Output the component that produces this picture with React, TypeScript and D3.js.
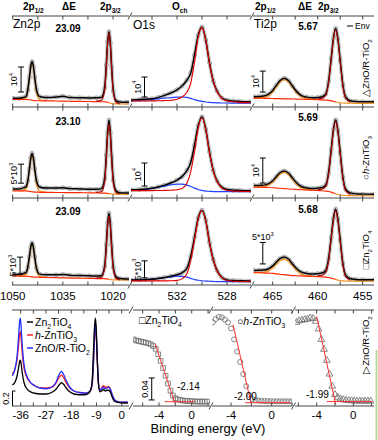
import React from 'react';
import * as d3 from 'd3';

// ---------- Zn 2p (k counts) ----------
const znE = [1050, 1048, 1047, 1046, 1045.5, 1045, 1044.6, 1044.2, 1043.8, 1043.4, 1042.9, 1042, 1040, 1037, 1035, 1033, 1030, 1027, 1025, 1023.5, 1022.5, 1022, 1021.6, 1021.2, 1020.8, 1020.4, 1019.9, 1019, 1018, 1016, 1015.2];
const znData1 = [3.5, 3.5, 3.7, 4.2, 6.8, 11.9, 16.3, 18.2, 16.2, 11.8, 7.0, 4.2, 3.8, 4.0, 4.3, 3.8, 3.7, 3.6, 3.7, 3.8, 7.6, 16.8, 26.2, 30.2, 25.6, 16.0, 6.4, 2.4, 2.0, 1.9, 1.9];
const znBg1 = [3.0, 3.0, 3.0, 3.0, 2.95, 2.9, 2.8, 2.7, 2.6, 2.55, 2.5, 2.5, 2.45, 2.4, 2.35, 2.3, 2.25, 2.2, 2.15, 2.1, 2.1, 2.0, 1.9, 1.7, 1.5, 1.4, 1.3, 1.25, 1.2, 1.2, 1.2];
const znP1a = [0, 0, 0.3, 0.9, 3.3, 8.5, 13, 15, 13, 8.5, 3.3, 0.5, 0.1, 0, 0, 0, 0, 0, 0, 0, 0, 0, 0, 0, 0, 0, 0, 0, 0, 0, 0];
const znP2a = [0, 0, 0, 0, 0, 0, 0, 0, 0, 0, 0, 0, 0, 0, 0, 0, 0, 0.1, 0.2, 0.5, 4.5, 14, 23.5, 28, 23.5, 14, 4.5, 0.5, 0.1, 0, 0];
const znData2 = [2.4, 2.4, 2.6, 3.0, 4.5, 7.7, 10.5, 11.8, 10.4, 7.6, 4.6, 2.9, 2.6, 2.6, 2.7, 2.5, 2.4, 2.3, 2.3, 2.4, 5.0, 11.3, 17.4, 20.5, 17.2, 11.0, 4.6, 1.8, 1.4, 1.3, 1.3];
const znBg2 = [1.85, 1.85, 1.85, 1.85, 1.8, 1.75, 1.7, 1.65, 1.6, 1.55, 1.55, 1.5, 1.5, 1.45, 1.45, 1.4, 1.4, 1.35, 1.35, 1.3, 1.3, 1.25, 1.2, 1.15, 1.1, 1.05, 1.0, 1.0, 1.0, 1.0, 1.0];
const znP1b = [0, 0, 0.2, 0.6, 2.1, 5.4, 8.3, 9.6, 8.3, 5.4, 2.1, 0.3, 0.06, 0, 0, 0, 0, 0, 0, 0, 0, 0, 0, 0, 0, 0, 0, 0, 0, 0, 0];
const znP2b = [0, 0, 0, 0, 0, 0, 0, 0, 0, 0, 0, 0, 0, 0, 0, 0, 0, 0.07, 0.13, 0.33, 2.9, 9.2, 15.4, 18.3, 15.4, 9.2, 2.9, 0.33, 0.07, 0, 0];
const znData3 = [3.1, 3.1, 3.3, 3.7, 5.2, 8.4, 11.2, 12.4, 11.0, 8.2, 5.0, 3.2, 3.0, 3.0, 3.1, 2.9, 2.8, 2.7, 2.65, 2.7, 5.4, 11.9, 18.2, 21.2, 18.0, 11.6, 5.2, 2.3, 1.9, 1.8, 1.8];
const znBg3 = [2.6, 2.6, 2.6, 2.6, 2.55, 2.5, 2.45, 2.4, 2.35, 2.3, 2.3, 2.25, 2.2, 2.15, 2.1, 2.05, 2.0, 1.95, 1.9, 1.9, 1.85, 1.8, 1.75, 1.7, 1.6, 1.55, 1.5, 1.5, 1.5, 1.5, 1.5];
const znP1c = [0, 0, 0.19, 0.57, 2.1, 5.4, 8.2, 9.45, 8.2, 5.4, 2.1, 0.3, 0.06, 0, 0, 0, 0, 0, 0, 0, 0, 0, 0, 0, 0, 0, 0, 0, 0, 0, 0];
const znP2c = [0, 0, 0, 0, 0, 0, 0, 0, 0, 0, 0, 0, 0, 0, 0, 0, 0, 0.07, 0.13, 0.34, 3.0, 9.4, 15.7, 18.75, 15.7, 9.4, 3.0, 0.34, 0.07, 0, 0];
const znSplit = [23.09, 23.10, 23.09];

// ---------- O 1s ----------
const oE = [535.7, 535, 534.5, 534, 533.5, 533, 532.5, 532, 531.6, 531.2, 530.9, 530.6, 530.3, 530.0, 529.7, 529.4, 529.1, 528.8, 528.4, 528, 527.5, 527, 526.1];
const oData1 = [3.5, 3.7, 3.9, 4.1, 4.8, 5.8, 7.0, 8.6, 10.5, 13.5, 17, 26, 36, 40, 33.5, 22, 13, 8, 4.5, 3.4, 3.0, 2.8, 2.6];
const oMain1 = [3.0, 3.0, 3.0, 3.05, 3.1, 3.2, 3.4, 3.9, 5.0, 7.5, 12, 22.5, 35, 39.8, 33.3, 21.8, 12.8, 7.8, 4.3, 3.1, 2.6, 2.3, 2.1];
const oCh1 = [3.0, 3.3, 3.5, 3.8, 4.1, 4.4, 4.7, 4.9, 5.0, 4.8, 4.3, 3.7, 3.2, 2.8, 2.5, 2.3, 2.2, 2.1, 2.0, 2.0, 1.95, 1.9, 1.9];
const oData2 = [3.6, 3.7, 3.9, 4.2, 4.8, 5.6, 6.5, 7.8, 9.3, 12, 15.5, 23, 31.5, 35.3, 30, 20, 12, 7.5, 4.6, 3.7, 3.4, 3.3, 3.2];
const oMain2 = [3.2, 3.2, 3.2, 3.2, 3.25, 3.3, 3.4, 3.6, 4.1, 6.5, 11.5, 20, 30.5, 35, 29.7, 19.7, 11.7, 7.2, 4.3, 3.4, 3.0, 2.9, 2.8];
const oCh2 = [3.3, 3.5, 3.8, 4.2, 4.7, 5.2, 5.7, 6.0, 6.0, 5.6, 5.0, 4.3, 3.7, 3.3, 3.0, 2.9, 2.8, 2.8, 2.8, 2.8, 2.8, 2.8, 2.8];
const oData3 = [1.5, 1.5, 1.6, 1.7, 1.9, 2.2, 2.6, 3.0, 3.6, 5.0, 8.5, 14, 19.8, 22, 19, 12.5, 7.5, 4.3, 2.2, 1.5, 1.3, 1.25, 1.2];
const oMain3 = [1.2, 1.2, 1.2, 1.2, 1.2, 1.2, 1.25, 1.35, 1.8, 3.4, 7.3, 13.2, 19.4, 21.9, 18.9, 12.4, 7.4, 4.2, 2.1, 1.3, 1.1, 1.05, 1.0];
const oCh3 = [1.4, 1.5, 1.6, 1.75, 1.95, 2.15, 2.4, 2.6, 2.55, 2.3, 1.95, 1.6, 1.4, 1.25, 1.15, 1.1, 1.05, 1.0, 1.0, 1.0, 1.0, 1.0, 1.0];

// ---------- Ti 2p ----------
const tiE = [467.1, 466.5, 466, 465.5, 465, 464.6, 464.2, 463.7, 463.2, 462.8, 462.3, 461.8, 461.2, 460.6, 460, 459.5, 459.1, 458.8, 458.5, 458.25, 458.0, 457.75, 457.5, 457.2, 456.9, 456.4, 455.8, 455, 453.7];
const tiData1 = [4.9, 5.0, 5.2, 6.0, 7.9, 10.3, 12.5, 13.7, 12.4, 10.0, 7.2, 5.4, 4.7, 4.4, 4.5, 4.9, 6.3, 11.9, 23.2, 32.9, 37.5, 32.4, 22.2, 10.6, 4.8, 3.0, 2.6, 2.5, 2.5];
const tiBg1 = [4.2, 4.2, 4.15, 4.1, 4.05, 4.0, 3.95, 3.9, 3.85, 3.8, 3.75, 3.7, 3.65, 3.6, 3.5, 3.4, 3.3, 3.2, 3.0, 2.7, 2.4, 2.15, 2.0, 1.9, 1.85, 1.8, 1.75, 1.7, 1.7];
const tiP1a = [0.1, 0.2, 0.4, 1.2, 3.1, 5.5, 7.8, 9.1, 7.8, 5.5, 2.7, 0.95, 0.3, 0.1, 0, 0, 0, 0, 0, 0, 0, 0, 0, 0, 0, 0, 0, 0, 0];
const tiP2a = [0, 0, 0, 0, 0, 0, 0, 0, 0, 0, 0, 0, 0, 0, 0.4, 0.8, 2.3, 8.0, 19.5, 29.5, 34.4, 29.5, 19.5, 8.0, 2.3, 0.6, 0.2, 0.05, 0];
const tiData2 = [4.97, 5.04, 5.15, 5.65, 6.9, 8.5, 10.1, 10.85, 9.8, 8.0, 5.9, 4.6, 4.0, 3.77, 3.95, 4.2, 5.25, 9.9, 19.35, 27.5, 31.3, 26.9, 18.2, 8.35, 3.5, 2.05, 1.65, 1.55, 1.5];
const tiBg2 = [4.3, 4.3, 4.25, 4.2, 4.1, 4.0, 3.9, 3.75, 3.6, 3.5, 3.4, 3.3, 3.2, 3.1, 3.0, 2.9, 2.75, 2.6, 2.35, 2.0, 1.7, 1.4, 1.2, 1.05, 1.0, 0.95, 0.9, 0.9, 0.9];
const tiP1b = [0.07, 0.14, 0.3, 0.85, 2.2, 3.9, 5.6, 6.5, 5.6, 3.9, 1.9, 0.7, 0.2, 0.07, 0, 0, 0, 0, 0, 0, 0, 0, 0, 0, 0, 0, 0, 0, 0];
const tiP2b = [0, 0, 0, 0, 0, 0, 0, 0, 0, 0, 0, 0, 0, 0, 0.35, 0.7, 1.9, 6.7, 16.4, 24.9, 29, 24.9, 16.4, 6.7, 1.9, 0.5, 0.15, 0.05, 0];
const tiData3 = [3.39, 3.43, 3.46, 3.73, 4.44, 5.3, 6.12, 6.54, 5.92, 4.9, 3.73, 2.98, 2.67, 2.54, 2.64, 2.77, 3.42, 5.97, 11.07, 15.55, 17.7, 15.25, 10.5, 5.0, 2.3, 1.5, 1.3, 1.2, 1.2];
const tiBg3 = [2.85, 2.85, 2.8, 2.75, 2.7, 2.6, 2.5, 2.4, 2.3, 2.2, 2.15, 2.1, 2.05, 2.0, 1.95, 1.9, 1.85, 1.75, 1.6, 1.45, 1.3, 1.15, 1.05, 0.95, 0.92, 0.9, 0.9, 0.9, 0.9];
const tiP1c = [0.04, 0.08, 0.16, 0.48, 1.24, 2.2, 3.12, 3.64, 3.12, 2.2, 1.08, 0.38, 0.12, 0.04, 0, 0, 0, 0, 0, 0, 0, 0, 0, 0, 0, 0, 0, 0, 0];
const tiP2c = [0, 0, 0, 0, 0, 0, 0, 0, 0, 0, 0, 0, 0, 0, 0.19, 0.37, 1.07, 3.72, 9.07, 13.7, 16.0, 13.7, 9.07, 3.72, 1.07, 0.28, 0.09, 0.02, 0];
const tiSplit = [5.67, 5.69, 5.68];

// ---------- valence band ----------
const vbE = [-39, -38, -37.3, -36.8, -36.4, -36.1, -35.8, -35.4, -34.8, -34, -33, -31, -29, -27, -25, -23.5, -22.3, -21.5, -20.7, -19.8, -18.5, -17, -15, -13, -11.5, -10.6, -10.1, -9.7, -9.4, -9.1, -8.7, -8.3, -7.8, -7.2, -6.5, -5.8, -5.2, -4.6, -4, -3.3, -2.5, -1.5, 0, 2.2];
const vbZn2TiO4 = [0.28, 0.32, 0.40, 0.50, 0.59, 0.61, 0.55, 0.43, 0.31, 0.24, 0.20, 0.17, 0.16, 0.16, 0.18, 0.22, 0.28, 0.31, 0.29, 0.24, 0.19, 0.16, 0.15, 0.15, 0.18, 0.30, 0.70, 1.05, 1.17, 1.05, 0.62, 0.30, 0.19, 0.20, 0.22, 0.20, 0.21, 0.21, 0.18, 0.11, 0.06, 0.05, 0.04, 0.04];
const vbZnTiO3 = [0.42, 0.50, 0.62, 0.80, 0.95, 0.99, 0.88, 0.68, 0.50, 0.40, 0.33, 0.27, 0.24, 0.24, 0.25, 0.30, 0.38, 0.41, 0.38, 0.31, 0.24, 0.20, 0.18, 0.17, 0.19, 0.27, 0.52, 0.88, 1.04, 0.95, 0.60, 0.31, 0.21, 0.24, 0.27, 0.25, 0.25, 0.26, 0.22, 0.14, 0.08, 0.06, 0.05, 0.05];
const vbZnOTiO2 = [0.40, 0.50, 0.66, 0.90, 1.12, 1.17, 1.02, 0.78, 0.55, 0.42, 0.34, 0.27, 0.24, 0.23, 0.25, 0.31, 0.42, 0.46, 0.42, 0.34, 0.25, 0.20, 0.18, 0.17, 0.19, 0.28, 0.55, 0.92, 1.10, 1.00, 0.62, 0.32, 0.21, 0.23, 0.25, 0.23, 0.24, 0.25, 0.22, 0.14, 0.08, 0.06, 0.05, 0.05];

// ---------- band edges ----------
const edgeE2 = [-7.1, -6.8, -6.5, -6.2, -5.9, -5.6, -5.3, -5.0, -4.7, -4.4, -4.1, -3.8, -3.5, -3.2, -2.9, -2.6, -2.3, -2.0, -1.7, -1.4, -1.1, -0.8, -0.5, -0.2, 0.1, 0.4, 0.7, 1.0, 1.3, 1.6, 1.9];
const edgeZn2TiO4 = [0.121, 0.119, 0.118, 0.117, 0.116, 0.115, 0.114, 0.112, 0.109, 0.104, 0.094, 0.082, 0.069, 0.055, 0.041, 0.028, 0.019, 0.014, 0.012, 0.011, 0.010, 0.0095, 0.009, 0.009, 0.0085, 0.0085, 0.008, 0.008, 0.008, 0.008, 0.008];
const edgeE3 = [-5.8, -5.5, -5.2, -4.9, -4.6, -4.3, -4.0, -3.7, -3.4, -3.1, -2.8, -2.5, -2.2, -1.9, -1.6, -1.3, -1.0, -0.7, -0.4, -0.1, 0.2, 0.5, 0.8, 1.1, 1.4, 1.7, 2.0];
const edgeZnTiO3 = [0.152, 0.158, 0.162, 0.161, 0.157, 0.152, 0.141, 0.121, 0.099, 0.08, 0.058, 0.036, 0.02, 0.013, 0.011, 0.0098, 0.0093, 0.009, 0.0088, 0.0087, 0.0086, 0.0085, 0.0085, 0.0085, 0.0085, 0.0085, 0.0085];
const edgeE4 = [-6.2, -5.9, -5.6, -5.3, -5.0, -4.7, -4.4, -4.1, -3.8, -3.5, -3.2, -2.9, -2.6, -2.3, -2.0, -1.7, -1.4, -1.1, -0.8, -0.5, -0.2, 0.1, 0.4, 0.7, 1.0, 1.3, 1.6, 1.9];
const edgeZnOTiO2 = [0.152, 0.155, 0.156, 0.157, 0.158, 0.16, 0.159, 0.154, 0.14, 0.121, 0.103, 0.083, 0.058, 0.036, 0.021, 0.016, 0.013, 0.0115, 0.0105, 0.01, 0.0095, 0.0093, 0.009, 0.009, 0.009, 0.009, 0.009, 0.009];
const edgeFit2 = [[-4.45, 0.112], [-2.05, 0.005]];
const edgeBase2 = [[-3.3, 0.0078], [0.4, 0.0078]];
const edgeFit3 = [[-3.8, 0.148], [-2.03, 0.005]];
const edgeBase3 = [[-2.6, 0.006], [1.8, 0.006]];
const edgeFit4 = [[-4.0, 0.163], [-1.93, 0.003]];
const edgeBase4 = [[-2.9, 0.008], [2.1, 0.008]];
const edgeOnsets = ['-2.14', '-2.00', '-1.99'];

// ---------- layout ----------
const FONT = 'Liberation Sans, Arial, Helvetica, sans-serif';
const rowY = [16, 107, 198, 285];
const colX = [[12, 129], [131, 251], [253, 374]];
const pxPerK = [[2.5, 2.0, 2.1], [3.8, 2.3, 2.5], [3.4, 3.4, 4.3]];
const botY = [310, 406];

const xZn = d3.scaleLinear().domain([1050, 1020]).range([12.7, 113]);
const xO = d3.scaleLinear().domain([532, 528]).range([177, 227]);
const xTi = d3.scaleLinear().domain([465, 455]).range([272.7, 362.7]);
const xVB = d3.scaleLinear().domain([-36, 0]).range([20.7, 121.7]);
const xE2 = d3.scaleLinear().domain([-4, 0]).range([159, 191.7]);
const xE3 = d3.scaleLinear().domain([-4, 0]).range([231, 271.7]);
const xE4 = d3.scaleLinear().domain([-4, 0]).range([316.7, 353.3]);
const yVB = d3.scaleLinear().domain([0, 1.28]).range([406, 310]);
const yEdge = d3.scaleLinear().domain([0, 0.1745]).range([406, 310]);

const COL = { band: '#cdcdcd', dot: '#8e8e8e', env: '#000', dred: '#b00000', orange: '#f7931e', red: '#ff2a00', blue: '#2040ff', axis: '#444' };

function Rich({ parts, fs }) {
  let cur = 0;
  return (
    <>
      {parts.map(([t, k], i) => {
        const small = k === 'sub' || k === 'sup';
        const target = k === 'sub' ? fs * 0.3 : k === 'sup' ? -fs * 0.45 : 0;
        const dy = target - cur;
        cur = target;
        return (
          <tspan key={i} dy={dy} fontSize={small ? fs * 0.65 : fs} fontStyle={k === 'i' ? 'italic' : undefined}>{t}</tspan>
        );
      })}
    </>
  );
}

function Spectrum({ xs, E, data, row, col, layers, bar }) {
  const top = rowY[row], bottom = rowY[row + 1];
  const [x0, x1] = colX[col];
  const ys = d3.scaleLinear().domain([0, (bottom - top) / pxPerK[row][col]]).range([bottom, top]);
  const path = (vals, def) =>
    d3.line().x((_, i) => xs(E[i])).y((v) => ys(v)).defined((_, i) => (def ? def(E[i]) : true)).curve(d3.curveMonotoneX)(vals);
  const id = `clip-${row}-${col}`;
  const bx = xs(bar.e);
  const by0 = ys(bar.base), by1 = ys(bar.base + bar.len);
  return (
    <g>
      <clipPath id={id}><rect x={x0} y={top} width={x1 - x0} height={bottom - top} /></clipPath>
      <g clipPath={`url(#${id})`}>
        <path d={path(data)} fill="none" stroke={COL.band} strokeWidth={4} />
        {data.map((v, i) => (
          <circle key={i} cx={xs(E[i])} cy={ys(v)} r={1.9} fill="#e6e6e6" stroke={COL.dot} strokeWidth={0.7} />
        ))}
        {layers.map((l, i) => (
          <path key={i} d={path(l.vals, l.def)} fill="none" stroke={l.color} strokeWidth={l.w || 1.2} />
        ))}
      </g>
      <g stroke="#000" strokeWidth={1}>
        <line x1={bx} x2={bx} y1={by0} y2={by1} />
        <line x1={bx - 3} x2={bx + 3} y1={by0} y2={by0} />
        <line x1={bx - 3} x2={bx + 3} y1={by1} y2={by1} />
      </g>
      {bar.horizontal ? (
        <text x={bx} y={by1 - 2} textAnchor="middle" fontFamily={FONT} fontSize={9}>
          <Rich fs={9} parts={bar.label} />
        </text>
      ) : (
        <text transform={`translate(${bx - 4},${(by0 + by1) / 2}) rotate(-90)`} textAnchor="middle" fontFamily={FONT} fontSize={9}>
          <Rich fs={9} parts={bar.label} />
        </text>
      )}
    </g>
  );
}

function add(a, b) {
  return a.map((v, i) => v + b[i]);
}

function Ticks({ xs, vals, y, up, down, x0, x1 }) {
  return (
    <g stroke={COL.axis} strokeWidth={1}>
      {vals.filter((v) => xs(v) >= x0 - 0.5 && xs(v) <= x1 + 0.5).map((v, i) => (
        <line key={i} x1={xs(v)} x2={xs(v)} y1={y - up} y2={y + down} />
      ))}
    </g>
  );
}

function Slash({ x, y }) {
  return <line x1={x - 2} x2={x + 2} y1={y + 3.5} y2={y - 3.5} stroke={COL.axis} strokeWidth={1} />;
}

const znRows = [
  { data: znData1, bg: znBg1, p1: znP1a, p2: znP2a, bar: { e: 1047.5, base: 6, len: 10, label: [['10'], ['4', 'sup']] } },
  { data: znData2, bg: znBg2, p1: znP1b, p2: znP2b, bar: { e: 1047.5, base: 3.9, len: 5, label: [['5*10'], ['3', 'sup']] } },
  { data: znData3, bg: znBg3, p1: znP1c, p2: znP2c, bar: { e: 1047.8, base: 3.2, len: 5, label: [['5*10'], ['3', 'sup']] } },
];
const oRows = [
  { data: oData1, main: oMain1, och: oCh1, bar: { e: 534.6, base: 5, len: 10, label: [['10'], ['4', 'sup']] } },
  { data: oData2, main: oMain2, och: oCh2, bar: { e: 534.6, base: 5.2, len: 10, label: [['10'], ['4', 'sup']] } },
  { data: oData3, main: oMain3, och: oCh3, bar: { e: 534.6, base: 2.1, len: 5, label: [['5*10'], ['3', 'sup']] } },
];
const tiRows = [
  { data: tiData1, bg: tiBg1, p1: tiP1a, p2: tiP2a, bar: { e: 466.1, base: 7.1, len: 10, label: [['10'], ['4', 'sup']] } },
  { data: tiData2, bg: tiBg2, p1: tiP1b, p2: tiP2b, bar: { e: 466.1, base: 6, len: 10, label: [['10'], ['4', 'sup']] } },
  { data: tiData3, bg: tiBg3, p1: tiP1c, p2: tiP2c, bar: { e: 466.1, base: 4.9, len: 5, horizontal: true, label: [['5*10'], ['3', 'sup']] } },
];
const sampleLabels = [
  [['\u25B3ZnO/R-TiO'], ['2', 'sub']],
  [['\u25CB'], ['h', 'i'], ['-ZnTiO'], ['3', 'sub']],
  [['\u25A1Zn'], ['2', 'sub'], ['TiO'], ['4', 'sub']],
];
const sampleLabelY = [68, 158, 250];

function xpsLayers(r, split, w1, w2) {
  return [
    { vals: add(r.bg, r.p1), color: COL.orange, def: (e) => e >= w1[0] && e <= w1[1] },
    { vals: r.bg, color: COL.orange, def: (e) => e <= split },
    { vals: r.bg, color: COL.red, def: (e) => e >= split },
    { vals: r.data, color: COL.env, w: 1.5 },
    { vals: add(r.bg, r.p2), color: COL.dred, w: 1.1, def: (e) => e >= w2[0] && e <= w2[1] },
  ];
}

function EdgePanel({ xs, x0, x1, E, vals, fit, base, sym, onset, onsetX, onsetY, clipId }) {
  const line = d3.line().x((d) => xs(d[0])).y((d) => yEdge(d[1]));
  const shape = d3.symbol().type(sym).size(sym === d3.symbolCircle ? 20 : sym === d3.symbolSquare ? 22 : 20)();
  return (
    <g>
      <clipPath id={clipId}><rect x={x0} y={botY[0]} width={x1 - x0} height={botY[1] - botY[0]} /></clipPath>
      <g clipPath={`url(#${clipId})`}>
        {vals.map((v, i) => (
          <path key={i} d={shape} transform={`translate(${xs(E[i])},${yEdge(v)})`} fill="none" stroke="#6a6a6a" strokeWidth={0.8} />
        ))}
        <path d={line(fit)} stroke="#ff3030" strokeWidth={1} fill="none" />
        <path d={line(base)} stroke="#ff3030" strokeWidth={1} fill="none" />
      </g>
      <text x={onsetX} y={onsetY} fontFamily={FONT} fontSize={10}>{onset}</text>
    </g>
  );
}

export default function App() {
  const vbLine = (vals) => d3.line().x((_, i) => xVB(vbE[i])).y((v) => yVB(v)).curve(d3.curveMonotoneX)(vals);
  const tickFont = { fontFamily: FONT, fontSize: 11.5, textAnchor: 'middle' };
  return (
    <svg width={378} height={440} style={{ position: 'absolute', left: 0, top: 0, background: '#fff' }}>
      {/* header */}
      <g fontFamily={FONT} fontWeight="bold" fontSize={10}>
        <text x={23} y={10}><Rich fs={10} parts={[['2p'], ['1/2', 'sub']]} /></text>
        <text x={62} y={10}>ΔE</text>
        <text x={100} y={10}><Rich fs={10} parts={[['2p'], ['3/2', 'sub']]} /></text>
        <text x={172} y={10}><Rich fs={10} parts={[['O'], ['ch', 'sub']]} /></text>
        <text x={255} y={10}><Rich fs={10} parts={[['2p'], ['1/2', 'sub']]} /></text>
        <text x={298} y={10}>ΔE</text>
        <text x={318} y={10}><Rich fs={10} parts={[['2p'], ['3/2', 'sub']]} /></text>
      </g>

      {/* XPS core-level panels */}
      {znRows.map((r, i) => (
        <Spectrum key={'zn' + i} xs={xZn} E={znE} data={r.data} row={i} col={0} bar={r.bar}
          layers={xpsLayers(r, 1021.2, [1040, 1048], [1018, 1025])} />
      ))}
      {oRows.map((r, i) => (
        <Spectrum key={'o' + i} xs={xO} E={oE} data={r.data} row={i} col={1} bar={r.bar}
          layers={[
            { vals: r.och, color: COL.blue },
            { vals: r.data, color: COL.env, w: 1.5 },
            { vals: r.main, color: '#e00000', w: 1.1 },
          ]} />
      ))}
      {tiRows.map((r, i) => (
        <Spectrum key={'ti' + i} xs={xTi} E={tiE} data={r.data} row={i} col={2} bar={r.bar}
          layers={xpsLayers(r, 458.0, [460.6, 467.1], [456, 460])} />
      ))}

      {/* frame lines, ticks, breaks */}
      {rowY.map((y, ri) => {
        const up = ri === 0 ? 0 : 3.5;
        const down = ri === rowY.length - 1 ? 0 : 3.5;
        return (
          <g key={'r' + ri}>
            {colX.map(([a, b], ci) => (
              <line key={ci} x1={a} x2={b} y1={y} y2={y} stroke={COL.axis} strokeWidth={1} />
            ))}
            <Ticks xs={xZn} vals={[1050, 1042.5, 1035, 1027.5, 1020]} y={y} up={up} down={down} x0={12} x1={129} />
            <Ticks xs={xO} vals={[534, 532, 530, 528, 526]} y={y} up={up} down={down} x0={131} x1={251} />
            <Ticks xs={xTi} vals={[465, 462.5, 460, 457.5, 455]} y={y} up={up} down={down} x0={253} x1={374} />
            <Slash x={130} y={y} />
            <Slash x={252} y={y} />
          </g>
        );
      })}
      <g {...tickFont}>
        {[1050, 1035, 1020].map((v) => <text key={v} x={xZn(v)} y={300}>{v}</text>)}
        {[532, 528].map((v) => <text key={v} x={xO(v)} y={300}>{v}</text>)}
        {[465, 460, 455].map((v) => <text key={v} x={xTi(v)} y={300}>{v}</text>)}
      </g>

      {/* panel annotations */}
      <g fontFamily={FONT} fontSize={12}>
        <text x={13} y={28}>Zn2p</text>
        <text x={133} y={29}>O1s</text>
        <text x={254} y={28}>Ti2p</text>
      </g>
      <g fontFamily={FONT} fontSize={10} fontWeight="bold" textAnchor="middle">
        {znSplit.map((v, i) => <text key={i} x={68} y={[32, 125, 215][i]}>{v.toFixed(2)}</text>)}
        {tiSplit.map((v, i) => <text key={i} x={308} y={[29.5, 121, 213][i]}>{v.toFixed(2)}</text>)}
      </g>
      <line x1={347} x2={353} y1={26} y2={26} stroke="#000" strokeWidth={1} />
      <text x={355} y={29} fontFamily={FONT} fontSize={8.5}>Env</text>
      {sampleLabels.map((p, i) => (
        <text key={i} transform={`translate(369,${sampleLabelY[i]}) rotate(-90)`} textAnchor="middle" fontFamily={FONT} fontSize={9.5}>
          <Rich fs={9.5} parts={p} />
        </text>
      ))}

      {/* valence band panel */}
      <clipPath id="clip-vb"><rect x={12} y={botY[0]} width={117} height={botY[1] - botY[0]} /></clipPath>
      <g clipPath="url(#clip-vb)" fill="none" strokeWidth={1.3}>
        <path d={vbLine(vbZnTiO3)} stroke="#ff2020" />
        <path d={vbLine(vbZnOTiO2)} stroke="#2030ff" />
        <path d={vbLine(vbZn2TiO4)} stroke="#000" />
      </g>
      <g fontFamily={FONT} fontSize={10.5}>
        {[
          { c: '#000', p: [['Zn'], ['2', 'sub'], ['TiO'], ['4', 'sub']] },
          { c: '#ff2020', p: [['h', 'i'], ['-ZnTiO'], ['3', 'sub']] },
          { c: '#2030ff', p: [['ZnO/R-TiO'], ['2', 'sub']] },
        ].map((l, i) => (
          <g key={i}>
            <line x1={27} x2={33} y1={322 + i * 13} y2={322 + i * 13} stroke={l.c} strokeWidth={1.5} />
            <text x={35} y={326 + i * 13}><Rich fs={10.5} parts={l.p} /></text>
          </g>
        ))}
      </g>
      <g stroke="#000" strokeWidth={1}>
        <line x1={12.5} x2={12.5} y1={yVB(0)} y2={yVB(0.2)} />
        <line x1={12.5} x2={15.5} y1={yVB(0.2)} y2={yVB(0.2)} />
      </g>
      <text transform={`translate(9,${(yVB(0) + yVB(0.2)) / 2}) rotate(-90)`} textAnchor="middle" fontFamily={FONT} fontSize={9}>0.2</text>

      {/* band edge panels */}
      <EdgePanel clipId="clip-e2" xs={xE2} x0={133} x1={210} E={edgeE2} vals={edgeZn2TiO4} fit={edgeFit2} base={edgeBase2} sym={d3.symbolSquare} onset={edgeOnsets[0]} onsetX={177} onsetY={390} />
      <EdgePanel clipId="clip-e3" xs={xE3} x0={212} x1={292} E={edgeE3} vals={edgeZnTiO3} fit={edgeFit3} base={edgeBase3} sym={d3.symbolCircle} onset={edgeOnsets[1]} onsetX={234} onsetY={400} />
      <EdgePanel clipId="clip-e4" xs={xE4} x0={295} x1={374} E={edgeE4} vals={edgeZnOTiO2} fit={edgeFit4} base={edgeBase4} sym={d3.symbolTriangle} onset={edgeOnsets[2]} onsetX={306} onsetY={398} />
      <g stroke="#000" strokeWidth={1}>
        <line x1={xE2(-4.89)} x2={xE2(-4.89)} y1={yEdge(0.011)} y2={yEdge(0.051)} />
        <line x1={xE2(-4.89) - 3} x2={xE2(-4.89) + 3} y1={yEdge(0.011)} y2={yEdge(0.011)} />
        <line x1={xE2(-4.89) - 3} x2={xE2(-4.89) + 3} y1={yEdge(0.051)} y2={yEdge(0.051)} />
      </g>
      <text transform={`translate(${xE2(-4.89) - 4},${(yEdge(0.011) + yEdge(0.051)) / 2}) rotate(-90)`} textAnchor="middle" fontFamily={FONT} fontSize={9}>0.04</text>
      <g fontFamily={FONT} fontSize={10.5}>
        <text x={139} y={324}><Rich fs={10.5} parts={[['\u25A1Zn'], ['2', 'sub'], ['TiO'], ['4', 'sub']]} /></text>
        <text x={237} y={325}><Rich fs={10.5} parts={[['\u25CB'], ['h', 'i'], ['-ZnTiO'], ['3', 'sub']]} /></text>
      </g>
      <text transform="translate(369,345) rotate(-90)" textAnchor="middle" fontFamily={FONT} fontSize={9.5}>
        <Rich fs={9.5} parts={[['\u25B7ZnO/R-TiO'], ['2', 'sub']]} />
      </text>

      {/* bottom frame */}
      {botY.map((y, bi) => {
        const up = bi === 0 ? 0 : 3.5;
        const down = bi === 0 ? 3.5 : 0;
        return (
          <g key={'b' + bi}>
            {[[12, 129], [133, 210], [212, 292], [295, 374]].map(([a, b], k) => (
              <line key={k} x1={a} x2={b} y1={y} y2={y} stroke={COL.axis} strokeWidth={1} />
            ))}
            <Ticks xs={xVB} vals={[-36, -31.5, -27, -22.5, -18, -13.5, -9, -4.5, 0]} y={y} up={up} down={down} x0={12} x1={129} />
            <Ticks xs={xE2} vals={[-6, -4, -2, 0, 2]} y={y} up={up} down={down} x0={133} x1={210} />
            <Ticks xs={xE3} vals={[-6, -4, -2, 0, 2]} y={y} up={up} down={down} x0={212} x1={292} />
            <Ticks xs={xE4} vals={[-6, -4, -2, 0, 2]} y={y} up={up} down={down} x0={295} x1={374} />
            <Slash x={131} y={y} />
            <Slash x={211} y={y} />
            <Slash x={293.5} y={y} />
          </g>
        );
      })}
      <g {...tickFont}>
        {[-36, -27, -18, -9, 0].map((v) => <text key={v} x={xVB(v)} y={419}>{v}</text>)}
        {[xE2, xE3, xE4].map((s, k) => [-4, 0].map((v) => <text key={k + '_' + v} x={s(v)} y={419}>{v}</text>))}
      </g>
      <text x={208} y={433} textAnchor="middle" fontFamily={FONT} fontSize={13}>Binding energy (eV)</text>
      <line x1={376.5} x2={376.5} y1={350} y2={440} stroke="#b8d89c" strokeWidth={2} />
    </svg>
  );
}
